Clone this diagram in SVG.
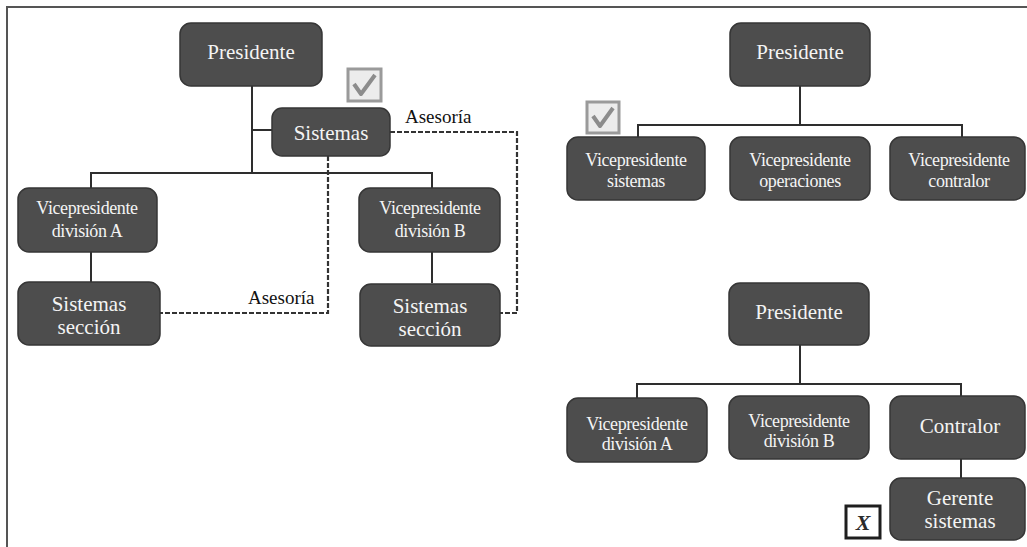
<svg xmlns="http://www.w3.org/2000/svg" width="1027" height="547" viewBox="0 0 1027 547" font-family="'Liberation Serif', 'DejaVu Serif', serif">
  <style>
    .box { fill: #4d4d4d; stroke: #363636; stroke-width: 1.5; }
    .lbl { fill: #f4f4f4; text-anchor: middle; }
    .big { font-size: 21px; }
    .small { font-size: 18px; letter-spacing: -0.4px; }
    .line { fill: none; stroke: #2e2e2e; stroke-width: 2; }
    .dash { fill: none; stroke: #333; stroke-width: 2.2; stroke-dasharray: 5 2; }
    .note { fill: #111; font-size: 19px; }
    .chk { fill: #ececec; stroke: #9a9a9a; stroke-width: 3; }
    .tick { fill: none; stroke: #8c8c8c; stroke-width: 4; stroke-linejoin: round; }
  </style>

  <rect width="1027" height="547" fill="#ffffff"/>
  <!-- page frame -->
  <path d="M7 547 V7 H1027" fill="none" stroke="#555" stroke-width="2"/>

  <!-- connectors -->
  <g id="connectors">
    <!-- left chart -->
    <path class="line" d="M252 86 V173"/>
    <path class="line" d="M252 130 H272"/>
    <path class="line" d="M91 195 V173 H432 V195"/>
    <path class="line" d="M91 252 V282"/>
    <path class="line" d="M432 252 V283"/>
    <path class="dash" d="M328 156 V313 H160"/>
    <path class="dash" d="M390 132 H517 V313 H500"/>
    <!-- top right chart -->
    <path class="line" d="M800 86 V125"/>
    <path class="line" d="M638 137 V125 H962 V137"/>
    <!-- bottom right chart -->
    <path class="line" d="M800 345 V384"/>
    <path class="line" d="M637 398 V384 H961 V396"/>
    <path class="line" d="M961 459 V478"/>
  </g>

  <!-- left chart: decentralized systems -->
  <g id="l-presidente">
    <rect class="box" x="180" y="23" width="142" height="63" rx="11"/>
    <text class="lbl big" x="251" y="59">Presidente</text>
  </g>
  <g id="l-sistemas">
    <rect class="box" x="272" y="108" width="118" height="48" rx="10"/>
    <text class="lbl big" x="331" y="140">Sistemas</text>
  </g>
  <g id="l-vp-a">
    <rect class="box" x="18" y="188" width="139" height="64" rx="11"/>
    <text class="lbl small" x="87" y="214">Vicepresidente</text>
    <text class="lbl small" x="87" y="237">división A</text>
  </g>
  <g id="l-vp-b">
    <rect class="box" x="359" y="188" width="141" height="64" rx="11"/>
    <text class="lbl small" x="430" y="214">Vicepresidente</text>
    <text class="lbl small" x="430" y="237">división B</text>
  </g>
  <g id="l-sec-a">
    <rect class="box" x="18" y="282" width="142" height="63" rx="11"/>
    <text class="lbl big" x="89" y="311">Sistemas</text>
    <text class="lbl big" x="89" y="334">sección</text>
  </g>
  <g id="l-sec-b">
    <rect class="box" x="360" y="284" width="140" height="62" rx="11"/>
    <text class="lbl big" x="430" y="313">Sistemas</text>
    <text class="lbl big" x="430" y="336">sección</text>
  </g>
  <text class="note" x="405" y="123">Asesoría</text>
  <text class="note" x="248" y="304">Asesoría</text>
  <g id="l-check">
    <rect class="chk" x="348" y="69" width="33" height="32"/>
    <path class="tick" d="M354 84 L361 94 L375 75"/>
  </g>

  <!-- top right chart -->
  <g id="t-presidente">
    <rect class="box" x="730" y="23" width="140" height="63" rx="11"/>
    <text class="lbl big" x="800" y="59">Presidente</text>
  </g>
  <g id="t-vp-sistemas">
    <rect class="box" x="567" y="137" width="138" height="63" rx="11"/>
    <text class="lbl small" x="636" y="166">Vicepresidente</text>
    <text class="lbl small" x="636" y="187">sistemas</text>
  </g>
  <g id="t-vp-operaciones">
    <rect class="box" x="730" y="137" width="140" height="63" rx="11"/>
    <text class="lbl small" x="800" y="166">Vicepresidente</text>
    <text class="lbl small" x="800" y="187">operaciones</text>
  </g>
  <g id="t-vp-contralor">
    <rect class="box" x="890" y="137" width="135" height="63" rx="11"/>
    <text class="lbl small" x="959" y="166">Vicepresidente</text>
    <text class="lbl small" x="959" y="187">contralor</text>
  </g>
  <g id="t-check">
    <rect class="chk" x="587" y="102" width="32" height="31"/>
    <path class="tick" d="M593 116 L600 126 L613 108"/>
  </g>

  <!-- bottom right chart -->
  <g id="b-presidente">
    <rect class="box" x="729" y="283" width="140" height="62" rx="11"/>
    <text class="lbl big" x="799" y="319">Presidente</text>
  </g>
  <g id="b-vp-a">
    <rect class="box" x="567" y="398" width="140" height="64" rx="11"/>
    <text class="lbl small" x="637" y="430">Vicepresidente</text>
    <text class="lbl small" x="637" y="450">división A</text>
  </g>
  <g id="b-vp-b">
    <rect class="box" x="729" y="396" width="140" height="63" rx="11"/>
    <text class="lbl small" x="799" y="427">Vicepresidente</text>
    <text class="lbl small" x="799" y="447">división B</text>
  </g>
  <g id="b-contralor">
    <rect class="box" x="890" y="396" width="135" height="63" rx="11"/>
    <text class="lbl big" x="960" y="433">Contralor</text>
  </g>
  <g id="b-gerente">
    <rect class="box" x="890" y="478" width="135" height="62" rx="11"/>
    <text class="lbl big" x="960" y="505">Gerente</text>
    <text class="lbl big" x="960" y="528">sistemas</text>
  </g>
  <g id="b-cross">
    <rect x="846" y="506" width="34" height="32" fill="#fff" stroke="#1e1e1e" stroke-width="3"/>
    <text x="863" y="530" text-anchor="middle" font-size="22" font-style="italic" font-weight="bold" fill="#2a2a2a">X</text>
  </g>
</svg>
